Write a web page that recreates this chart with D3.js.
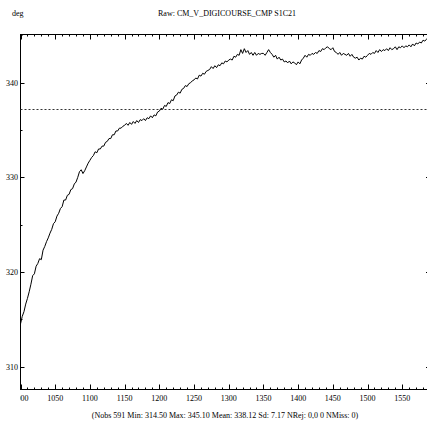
<!DOCTYPE html>
<html><head><meta charset="utf-8">
<script src="https://cdn.jsdelivr.net/npm/d3@7"></script>
<style>
body{margin:0;background:#fff;}
</style></head>
<body><svg id="c" width="427" height="425" font-family="'Liberation Serif', 'Times New Roman', serif"></svg>
<script>
const xStart = 1000, xStep = 2.5;
const values = [
314.5,315.3,315.8,316.6,317.2,317.9,318.7,319.6,319.8,320.6,
320.9,321.4,321.3,322.3,322.7,323.2,323.6,324.1,324.5,325.1,
325.3,325.9,326.2,326.7,326.9,327.6,327.6,328.1,328.2,328.7,
328.8,329.3,329.5,330.0,330.6,330.8,330.4,330.7,331.1,331.5,
331.8,332.1,332.3,332.7,332.6,333.0,333.0,333.3,333.3,333.7,
333.8,334.1,334.1,334.5,334.5,334.9,334.9,335.2,335.2,335.4,
335.5,335.7,335.5,335.8,335.6,335.9,335.7,336.0,335.8,336.1,
336.0,336.2,336.0,336.3,336.2,336.5,336.3,336.6,336.5,336.9,
337.0,337.3,337.2,337.6,337.5,337.9,337.8,338.2,338.1,338.6,
338.7,339.0,338.9,339.3,339.4,339.7,339.6,339.9,340.0,340.2,
340.3,340.5,340.4,340.8,340.7,341.0,340.9,341.2,341.3,341.4,
341.7,341.5,341.8,341.6,341.9,341.8,342.1,342.0,342.3,342.2,
342.4,342.5,342.4,342.8,342.7,343.0,342.9,343.5,343.1,343.6,
343.2,343.4,343.0,343.2,342.9,343.2,342.9,343.1,343.0,343.1,
343.1,342.9,343.2,343.5,343.2,343.0,342.7,342.9,342.5,342.7,
342.4,342.5,342.2,342.3,342.1,342.3,342.0,342.2,342.1,341.9,
342.2,342.0,342.4,342.6,342.9,342.7,343.0,342.9,343.1,343.0,
343.2,343.1,343.4,343.3,343.6,343.5,343.7,343.8,343.6,343.5,
343.7,343.3,343.2,343.0,343.2,342.9,343.1,343.0,342.9,343.1,
342.8,343.0,342.7,342.6,342.7,342.4,342.6,342.5,342.8,342.7,
342.9,343.1,343.0,343.2,343.1,343.4,343.2,343.5,343.3,343.5,
343.4,343.6,343.4,343.7,343.5,343.6,343.8,343.5,343.8,343.7,
343.9,343.7,343.9,343.8,344.0,343.8,344.1,343.9,344.2,344.1,
344.3,344.2,344.5,344.4,344.6,344.8,345.1
];
const xTicks = [1000,1050,1100,1150,1200,1250,1300,1350,1400,1450,1500,1550];
const yTicks = [310,320,330,340];
const refLine = 337.2;
const title = "Raw: CM_V_DIGICOURSE_CMP S1C21";
const unit = "deg";
const footer = "(Nobs 591 Min: 314.50 Max: 345.10 Mean: 338.12 Sd: 7.17 NRej: 0,0 0 NMiss: 0)";

const data = values.map((v,i)=>({x:xStart+i*xStep,y:v}));
const svg = d3.select("#c");
const L=20.5, R=430, T=34.5, B=389.5;
const x = d3.scaleLinear().domain([1000,1590]).range([L,R]);
const y = d3.scaleLinear().domain([307.57,345.1]).range([B,T]);

svg.append("clipPath").attr("id","lab").append("rect").attr("x",20).attr("y",0).attr("width",410).attr("height",425);
svg.append("clipPath").attr("id","plot").append("rect").attr("x",L).attr("y",T-2).attr("width",R-L).attr("height",B-T+2);

svg.append("rect").attr("x",L).attr("y",T).attr("width",R-L).attr("height",B-T)
  .attr("fill","none").attr("stroke","#000").attr("stroke-width",1);

const xMinor = d3.range(1000,1591,10);
const g = svg.append("g").attr("stroke","#000").attr("stroke-width",1);
xMinor.forEach(v=>{
  const major = v%50===0;
  const len = major?5:2;
  const px = Math.round(x(v))+0.5;
  g.append("line").attr("x1",px).attr("x2",px).attr("y1",B).attr("y2",B-len);
  g.append("line").attr("x1",px).attr("x2",px).attr("y1",T).attr("y2",T+len);
});
const yMinor = d3.range(310,346,5);
yMinor.forEach(v=>{
  const major = v%10===0;
  const len = major?4:2;
  const py = Math.round(y(v))+0.5;
  g.append("line").attr("x1",L).attr("x2",L+len).attr("y1",py).attr("y2",py);
  g.append("line").attr("x1",R).attr("x2",R-len).attr("y1",py).attr("y2",py);
});

svg.append("g").attr("clip-path","url(#lab)").selectAll("text").data(xTicks).join("text")
  .attr("x",d=>x(d)).attr("y",401).attr("text-anchor","middle").attr("font-size",8).text(d=>d);
svg.append("g").selectAll("text").data(yTicks).join("text")
  .attr("x",18).attr("y",d=>y(d)+3).attr("text-anchor","end").attr("font-size",8).text(d=>d);

svg.append("line").attr("x1",L).attr("x2",R).attr("y1",Math.round(y(refLine))+0.5).attr("y2",Math.round(y(refLine))+0.5)
  .attr("stroke","#333").attr("stroke-width",1).attr("stroke-dasharray","2,2");

const line = d3.line().x(d=>x(d.x)).y(d=>y(d.y));
svg.append("path").datum(data).attr("clip-path","url(#plot)").attr("d",line)
  .attr("fill","none").attr("stroke","#000").attr("stroke-width",1);

svg.append("text").attr("x",12).attr("y",16).attr("font-size",8).text(unit);
svg.append("text").attr("x",227).attr("y",16).attr("text-anchor","middle").attr("font-size",8).text(title);
svg.append("text").attr("x",225).attr("y",418).attr("text-anchor","middle").attr("font-size",8).text(footer);
</script></body></html>
